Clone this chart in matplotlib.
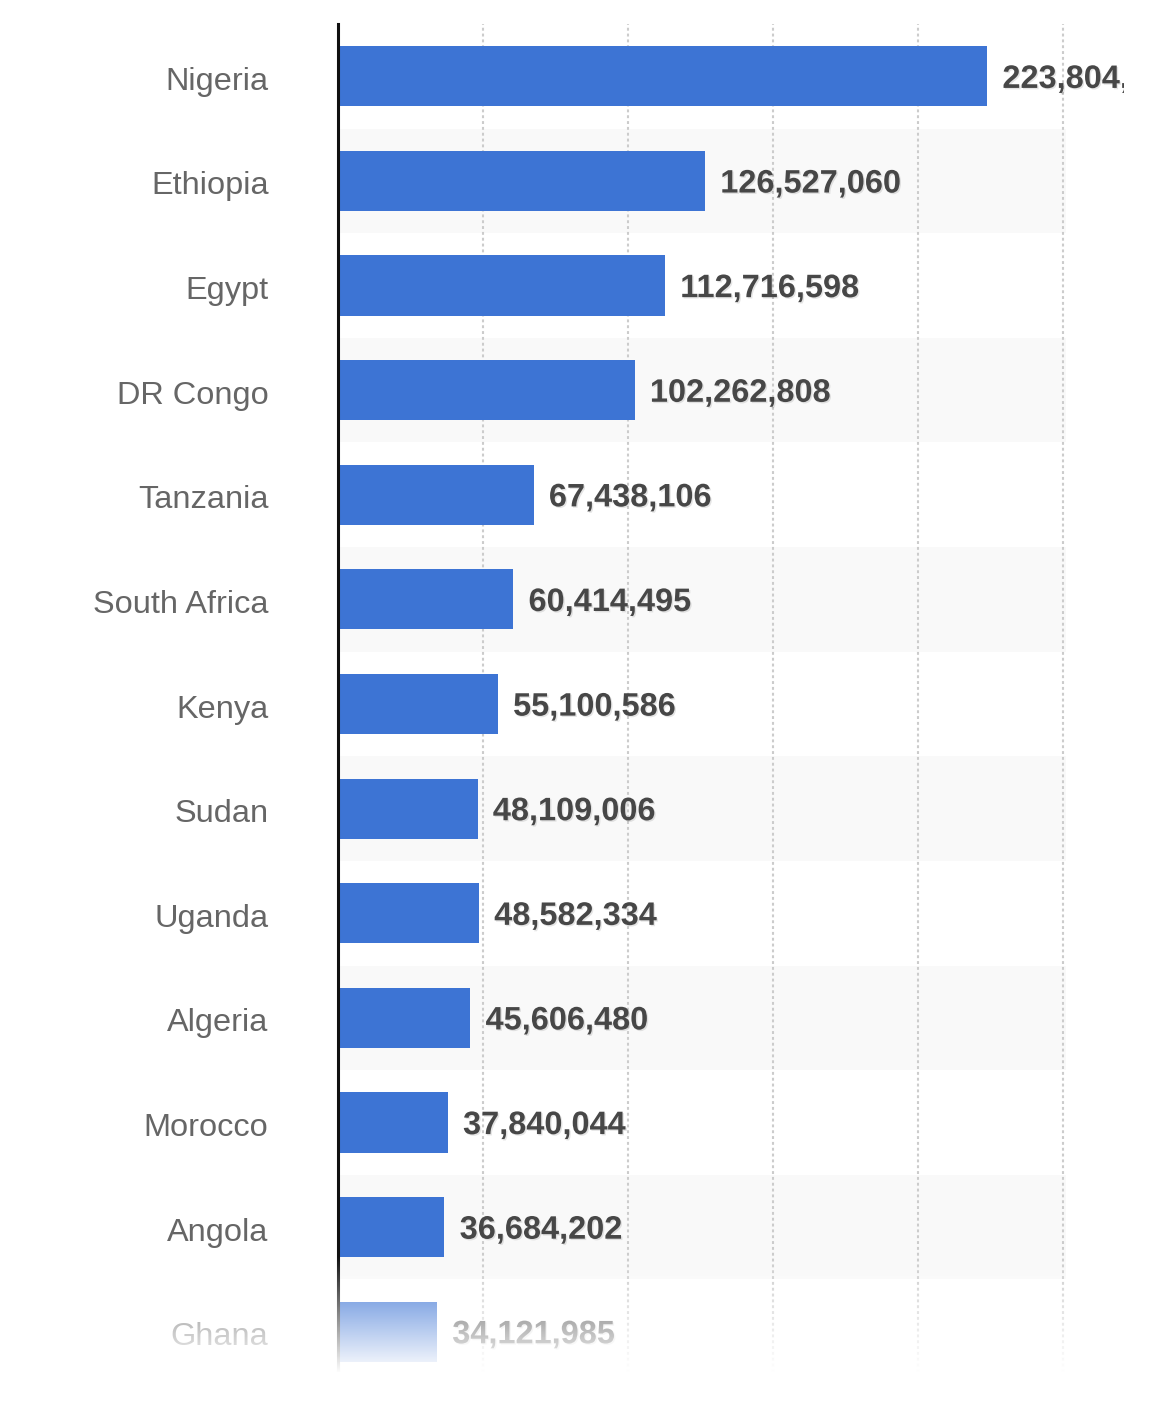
import numpy as np
import matplotlib
matplotlib.use("Agg")
import matplotlib.pyplot as plt
from matplotlib.patches import Rectangle
from matplotlib.transforms import ScaledTranslation
import matplotlib.patheffects as pe

countries = ["Nigeria", "Ethiopia", "Egypt", "DR Congo", "Tanzania", "South Africa",
             "Kenya", "Sudan", "Uganda", "Algeria", "Morocco", "Angola", "Ghana"]
population = [223804632, 126527060, 112716598, 102262808, 67438106, 60414495,
              55100586, 48109006, 48582334, 45606480, 37840044, 36684202, 34121985]
grid_ticks = [50e6, 100e6, 150e6, 200e6, 250e6]

W, H = 1170, 1416
bar_col = "#3d74d4"

plt.rcParams["font.family"] = ["Liberation Sans", "DejaVu Sans"]
fig = plt.figure(figsize=(W / 100, H / 100), dpi=100)
ax = fig.add_axes([338 / W, 1 - 1384 / H, (1066 - 338) / W, (1384 - 24) / H])

ypos = np.arange(len(countries))
for i in ypos:
    if i % 2 == 1:
        ax.axhspan(i - 0.5, i + 0.5, color="#f9f9f9", zorder=0, lw=0)

ax.barh(ypos, population, height=0.575, color=bar_col, zorder=3)

ax.set_xlim(0, 251e6)
ax.set_ylim(len(countries) - 0.5, -0.5)
ax.set_xticks(grid_ticks)
ax.set_xticklabels([])
ax.grid(axis="x", color="#cccccc", lw=1.5, ls=(0, (1.4, 1.4)), zorder=1)
ax.set_yticks(ypos)
ax.set_yticklabels(countries, fontsize=23.4, color="#666666")
ax.tick_params(length=0, pad=50)
shift = ScaledTranslation(0, -2 / 100, fig.dpi_scale_trans)
for lab in ax.get_yticklabels():
    lab.set_transform(lab.get_transform() + shift)
for s in ["top", "right", "bottom"]:
    ax.spines[s].set_visible(False)
ax.spines["left"].set_color("#111111")
ax.spines["left"].set_linewidth(2.2)
ax.spines["left"].set_zorder(5)

clip_rect = Rectangle((0, 0), 1124 / W, 1, transform=fig.transFigure)
for i, v in enumerate(population):
    t = ax.annotate(f"{v:,}", xy=(v, i), xytext=(11, -2.6), textcoords="offset points",
                    va="center", ha="left", fontsize=23.4, fontweight="bold",
                    color="#474747", annotation_clip=False, clip_on=True, zorder=6,
                    path_effects=[pe.withSimplePatchShadow(offset=(1, -1),
                                                           shadow_rgbFace="#000000",
                                                           alpha=0.1)])
    t.set_clip_path(clip_rect)

# white fade at the bottom
ov = fig.add_axes([0, 0, 1, 1], zorder=10)
ov.axis("off")
ov.patch.set_alpha(0)
rows = np.arange(H)
alpha = np.clip((rows - 1256) / (1372 - 1256), 0, 1)
grad = np.ones((H, 1, 4))
grad[:, 0, 3] = alpha
ov.imshow(grad, extent=[0, 1, 0, 1], aspect="auto", interpolation="bilinear")
ov.set_xlim(0, 1)
ov.set_ylim(0, 1)

fig.savefig("out.png", dpi=100)
